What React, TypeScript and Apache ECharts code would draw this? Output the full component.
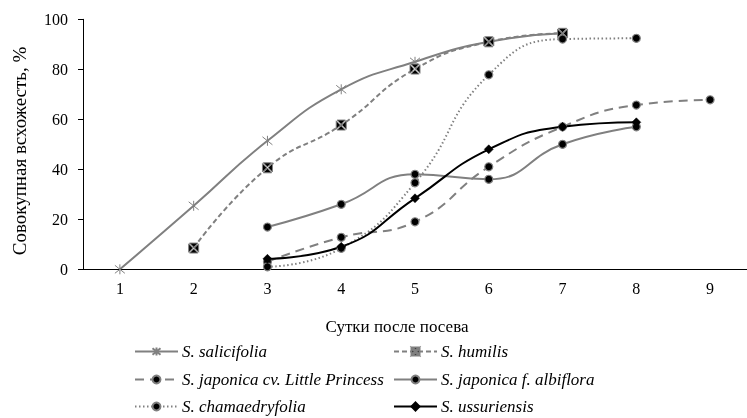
import React, { useEffect, useRef } from "react";
import * as echarts from "echarts";

const days = ["1", "2", "3", "4", "5", "6", "7", "8", "9"];
const seriesNames = [
  "S. salicifolia",
  "S. humilis",
  "S. japonica cv. Little Princess",
  "S. japonica f. albiflora",
  "S. chamaedryfolia",
  "S. ussuriensis",
];
const salicifolia = [0, 25.4, 51.4, 72, 83, 91, 94.4, null, null];
const humilis = [null, 8.5, 40.6, 57.7, 80.1, 91, 94.4, null, null];
const littlePrincess = [null, null, 3, 12.8, 19, 41, 57, 65.7, 67.8];
const albiflora = [null, null, 16.9, 26, 38, 36, 50, 57, null];
const chamaedryfolia = [null, null, 1, 8.4, 34.6, 77.8, 92.1, 92.4, null];
const ussuriensis = [null, null, 4.2, 9, 28.4, 48, 57, 58.8, null];

const yTitle = "Совокупная всхожесть, %";
const xTitle = "Сутки после посева";

const GRAY = "#808080";
const FONT = "'Liberation Serif', 'Times New Roman', serif";

const STAR = "path://M0 -5 L0 5 M-4 -4 L4 4 M-4 4 L4 -4";
const BOXX =
  "path://M-4.2 -5 L4.2 -5 L0 -0.8 Z M5 -4.2 L5 4.2 L0.8 0 Z M-4.2 5 L4.2 5 L0 0.8 Z M-5 -4.2 L-5 4.2 L-0.8 0 Z";

export default function App() {
  const ref = useRef<HTMLDivElement>(null);
  useEffect(() => {
    if (!ref.current) return;
    const chart = echarts.init(ref.current, null, { renderer: "svg" });
    const mk = (
      name: string,
      data: (number | null)[],
      line: any,
      symbol: string,
      symbolSize: number,
      itemStyle: any
    ) => ({
      name,
      type: "line",
      data,
      smooth: 0.5,
      connectNulls: false,
      symbol,
      symbolSize,
      lineStyle: line,
      itemStyle,
      emphasis: { disabled: true },
    });
    const dotStyle = { color: "#000", borderColor: GRAY, borderWidth: 1.2 };
    const series = [
      mk(seriesNames[0], salicifolia, { color: GRAY, width: 2, type: "solid" }, STAR, 10, {
        color: GRAY,
        borderColor: GRAY,
        borderWidth: 1,
      }),
      mk(seriesNames[1], humilis, { color: GRAY, width: 2, type: [5, 3] }, BOXX, 10, {
        color: "#000",
        borderColor: GRAY,
        borderWidth: 1,
      }),
      mk(seriesNames[2], littlePrincess, { color: GRAY, width: 2, type: [9, 6] }, "circle", 8, dotStyle),
      mk(seriesNames[3], albiflora, { color: GRAY, width: 2, type: "solid" }, "circle", 8, dotStyle),
      mk(seriesNames[4], chamaedryfolia, { color: GRAY, width: 2, type: [1.5, 2.5] }, "circle", 8, dotStyle),
      mk(seriesNames[5], ussuriensis, { color: "#000", width: 2, type: "solid" }, "diamond", 9, {
        color: "#000",
        borderColor: "#000",
        borderWidth: 0.5,
      }),
    ];
    const legendPos = [
      [134, 353],
      [393, 353],
      [134, 381],
      [393, 381],
      [134, 408],
      [393, 408],
    ];
    const legends = seriesNames.map((n, i) => ({
      left: legendPos[i][0],
      top: legendPos[i][1] - 10,
      padding: 0,
      itemWidth: 43,
      itemHeight: 10,
      itemGap: 0,
      selectedMode: false,
      data: [n],
      textStyle: { fontFamily: FONT, fontSize: 17, fontStyle: "italic", color: "#000", padding: [0, 0, 0, -1] },
    }));
    chart.setOption({
      animation: false,
      grid: { left: 83, right: -9, top: 19.3, bottom: 148.7, containLabel: false },
      xAxis: {
        type: "category",
        data: days,
        boundaryGap: true,
        axisLine: { lineStyle: { color: "#000", width: 1 } },
        axisTick: { show: false },
        axisLabel: { fontFamily: FONT, fontSize: 16, color: "#000", margin: 11 },
        splitLine: { show: false },
      },
      yAxis: {
        type: "value",
        min: 0,
        max: 100,
        interval: 20,
        axisLine: { show: true, lineStyle: { color: "#000", width: 1 } },
        axisTick: { show: true, length: 5, lineStyle: { color: "#000" } },
        axisLabel: { fontFamily: FONT, fontSize: 16, color: "#000", margin: 15 },
        splitLine: { show: false },
      },
      legend: legends,
      graphic: [
        {
          type: "text",
          x: 19,
          y: 151,
          rotation: Math.PI / 2,
          style: {
            text: yTitle,
            fontFamily: FONT,
            fontSize: 19,
            fill: "#000",
            align: "center",
            verticalAlign: "middle",
          },
        },
        {
          type: "text",
          x: 397,
          y: 326,
          style: {
            text: xTitle,
            fontFamily: FONT,
            fontSize: 17,
            fill: "#000",
            align: "center",
            verticalAlign: "middle",
          },
        },
      ],
      series,
    });
    return () => chart.dispose();
  }, []);
  return <div ref={ref} style={{ position: "fixed", left: 0, top: 0, width: 747, height: 418 }} />;
}
